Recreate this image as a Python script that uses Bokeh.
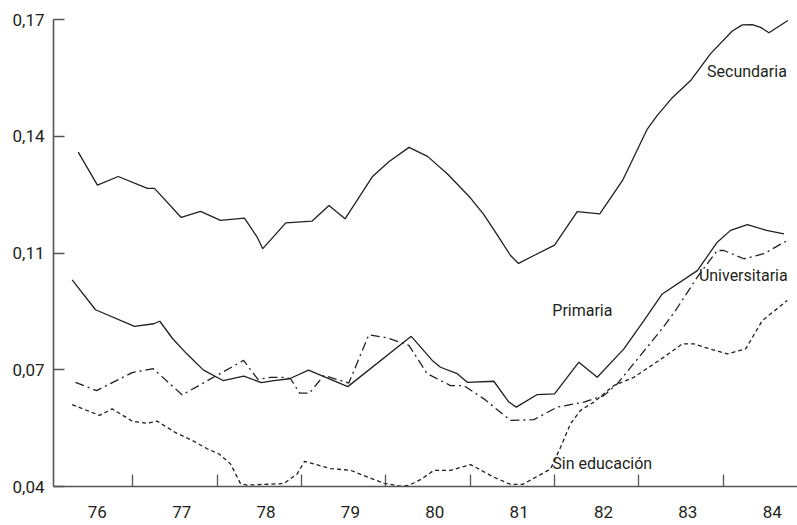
from bokeh.plotting import figure
from bokeh.models import Range1d, FixedTicker, Label
from bokeh.embed import file_html
from bokeh.resources import INLINE

# ---- data -------------------------------------------------------------
year_ticks = [76, 77, 78, 79, 80, 81, 82, 83, 84]
year_labels = ["76", "77", "78", "79", "80", "81", "82", "83", "84"]
y_ticks = [0.04, 0.0725, 0.105, 0.1375, 0.17]
y_tick_labels = ["0,04", "0,07", "0,11", "0,14", "0,17"]

sec_x = [76.353, 76.581, 76.827, 77.174, 77.257, 77.574, 77.803, 78.040, 78.324,
         78.475, 78.541, 78.814, 79.127, 79.326, 79.516, 79.839, 80.035, 80.275,
         80.494, 80.731, 81.004, 81.162, 81.324, 81.478, 81.573, 81.755, 82.000,
         82.269, 82.536, 82.806, 83.099, 83.218, 83.399, 83.613, 83.850, 84.107,
         84.226, 84.344, 84.443, 84.541, 84.766]
sec_y = [0.1331, 0.1239, 0.1263, 0.1230, 0.1230, 0.1149, 0.1166, 0.1141, 0.1147,
         0.1094, 0.1062, 0.1134, 0.1139, 0.1182, 0.1145, 0.1262, 0.1304, 0.1344,
         0.1319, 0.1270, 0.1203, 0.1157, 0.1099, 0.1043, 0.1021, 0.1043, 0.1072,
         0.1165, 0.1159, 0.1252, 0.1395, 0.1433, 0.1483, 0.1530, 0.1605, 0.1668,
         0.1685, 0.1686, 0.1678, 0.1663, 0.1697]

pri_x = [76.281, 76.558, 77.020, 77.249, 77.320, 77.471, 77.637, 77.838, 78.070,
         78.316, 78.526, 78.672, 78.858, 79.083, 79.549, 80.301, 80.550, 80.648,
         80.846, 80.965, 81.280, 81.458, 81.546, 81.795, 82.000, 82.288, 82.506,
         82.822, 83.059, 83.277, 83.692, 83.929, 84.087, 84.285, 84.514, 84.719]
pri_y = [0.0975, 0.0892, 0.0846, 0.0853, 0.0860, 0.0812, 0.0770, 0.0724, 0.0695,
         0.0707, 0.0689, 0.0695, 0.0700, 0.0724, 0.0678, 0.0818, 0.0751, 0.0732,
         0.0714, 0.0690, 0.0693, 0.0635, 0.0621, 0.0656, 0.0658, 0.0746, 0.0704,
         0.0783, 0.0862, 0.0936, 0.1001, 0.1080, 0.1113, 0.1129, 0.1113, 0.1103]

uni_x = [76.321, 76.570, 76.993, 77.242, 77.586, 78.313, 78.484, 78.633, 78.790,
         78.870, 78.977, 79.095, 79.265, 79.561, 79.798, 80.016, 80.273, 80.491,
         80.767, 80.925, 81.162, 81.478, 81.755, 82.032, 82.348, 82.585, 82.744,
         82.921, 83.257, 83.435, 83.692, 83.929, 84.007, 84.245, 84.482, 84.759]
uni_y = [0.0690, 0.0667, 0.0717, 0.0728, 0.0655, 0.0751, 0.0698, 0.0704, 0.0704,
         0.0700, 0.0660, 0.0660, 0.0709, 0.0688, 0.0822, 0.0814, 0.0793, 0.0714,
         0.0681, 0.0681, 0.0644, 0.0584, 0.0586, 0.0621, 0.0635, 0.0653, 0.0686,
         0.0737, 0.0834, 0.0890, 0.0983, 0.1057, 0.1057, 0.1034, 0.1048, 0.1085]

sin_x = [76.281, 76.605, 76.756, 76.993, 77.171, 77.289, 77.506, 77.708, 77.882,
         78.020, 78.158, 78.277, 78.356, 78.790, 78.949, 79.036, 79.344, 79.581,
         79.798, 79.976, 80.174, 80.269, 80.411, 80.569, 80.767, 81.004, 81.280,
         81.478, 81.621, 81.834, 81.953, 82.071, 82.190, 82.308, 82.466, 82.703,
         82.940, 83.296, 83.514, 83.652, 83.770, 84.048, 84.265, 84.463, 84.759]
sin_y = [0.0628, 0.0598, 0.0616, 0.0582, 0.0576, 0.0582, 0.0550, 0.0528, 0.0505,
         0.0491, 0.0463, 0.0408, 0.0404, 0.0408, 0.0435, 0.0470, 0.0450, 0.0445,
         0.0425, 0.0409, 0.0401, 0.0403, 0.0419, 0.0445, 0.0445, 0.0461, 0.0426,
         0.0406, 0.0406, 0.0433, 0.0449, 0.0509, 0.0575, 0.0612, 0.0635, 0.0681,
         0.0704, 0.0760, 0.0797, 0.0797, 0.0788, 0.0769, 0.0783, 0.0862, 0.0918]

series_names = ["Secundaria", "Universitaria", "Primaria", "Sin educación"]

# ---- styling ----------------------------------------------------------
FONT = "Roboto"
INK = "#231f20"
AXIS = "#555555"
LABEL_OFFSET = 0.58

p = figure(width=797, height=525,
           x_range=Range1d(76.06, 84.88), y_range=Range1d(0.04, 0.17),
           output_backend="svg", toolbar_location=None,
           min_border_left=53, min_border_right=0,
           min_border_top=19, min_border_bottom=39)
p.outline_line_color = None
p.xgrid.visible = False
p.ygrid.visible = False
p.background_fill_color = "white"
p.border_fill_color = "white"

lw = 1.3
p.line(sec_x, sec_y, line_color=INK, line_width=lw)
p.line(pri_x, pri_y, line_color=INK, line_width=lw)
p.line(uni_x, uni_y, line_color=INK, line_width=lw, line_dash="9 4 2 4")
p.line(sin_x, sin_y, line_color=INK, line_width=lw, line_dash="4 3")

# x axis: labels mid-year, ticks at year boundaries
xa = p.xaxis[0]
xa.ticker = FixedTicker(ticks=[y + LABEL_OFFSET for y in year_ticks],
                        minor_ticks=[y for y in year_ticks[1:]])
xa.major_label_overrides = {y + LABEL_OFFSET: lab for y, lab in zip(year_ticks, year_labels)}
xa.major_tick_in = 0
xa.major_tick_out = 0
xa.minor_tick_in = 12
xa.minor_tick_out = 0
xa.minor_tick_line_color = AXIS
xa.minor_tick_line_width = 1.3
xa.axis_line_color = AXIS
xa.axis_line_width = 1.6
xa.major_label_standoff = 19
xa.major_label_text_font = FONT
xa.major_label_text_font_size = "17px"
xa.major_label_text_color = INK

ya = p.yaxis[0]
ya.ticker = FixedTicker(ticks=y_ticks, minor_ticks=[])
ya.major_label_overrides = {t: lab for t, lab in zip(y_ticks, y_tick_labels)}
ya.major_tick_in = 11
ya.major_tick_out = 0
ya.major_tick_line_color = AXIS
ya.major_tick_line_width = 1.3
ya.minor_tick_in = 0
ya.minor_tick_out = 0
ya.axis_line_color = AXIS
ya.axis_line_width = 1.6
ya.major_label_standoff = 9
ya.major_label_text_font = FONT
ya.major_label_text_font_size = "17px"
ya.major_label_text_color = INK

# series labels
label_pos = [(83.808, 0.1555), (83.711, 0.0987), (81.973, 0.0890), (81.973, 0.0463)]
for name, (lx, ly) in zip(series_names, label_pos):
    p.add_layout(Label(x=lx, y=ly, text=name, text_font=FONT, text_font_size="16px",
                       text_color=INK, text_align="left", text_baseline="middle"))

open("out.html", "w").write(file_html(p, INLINE))
